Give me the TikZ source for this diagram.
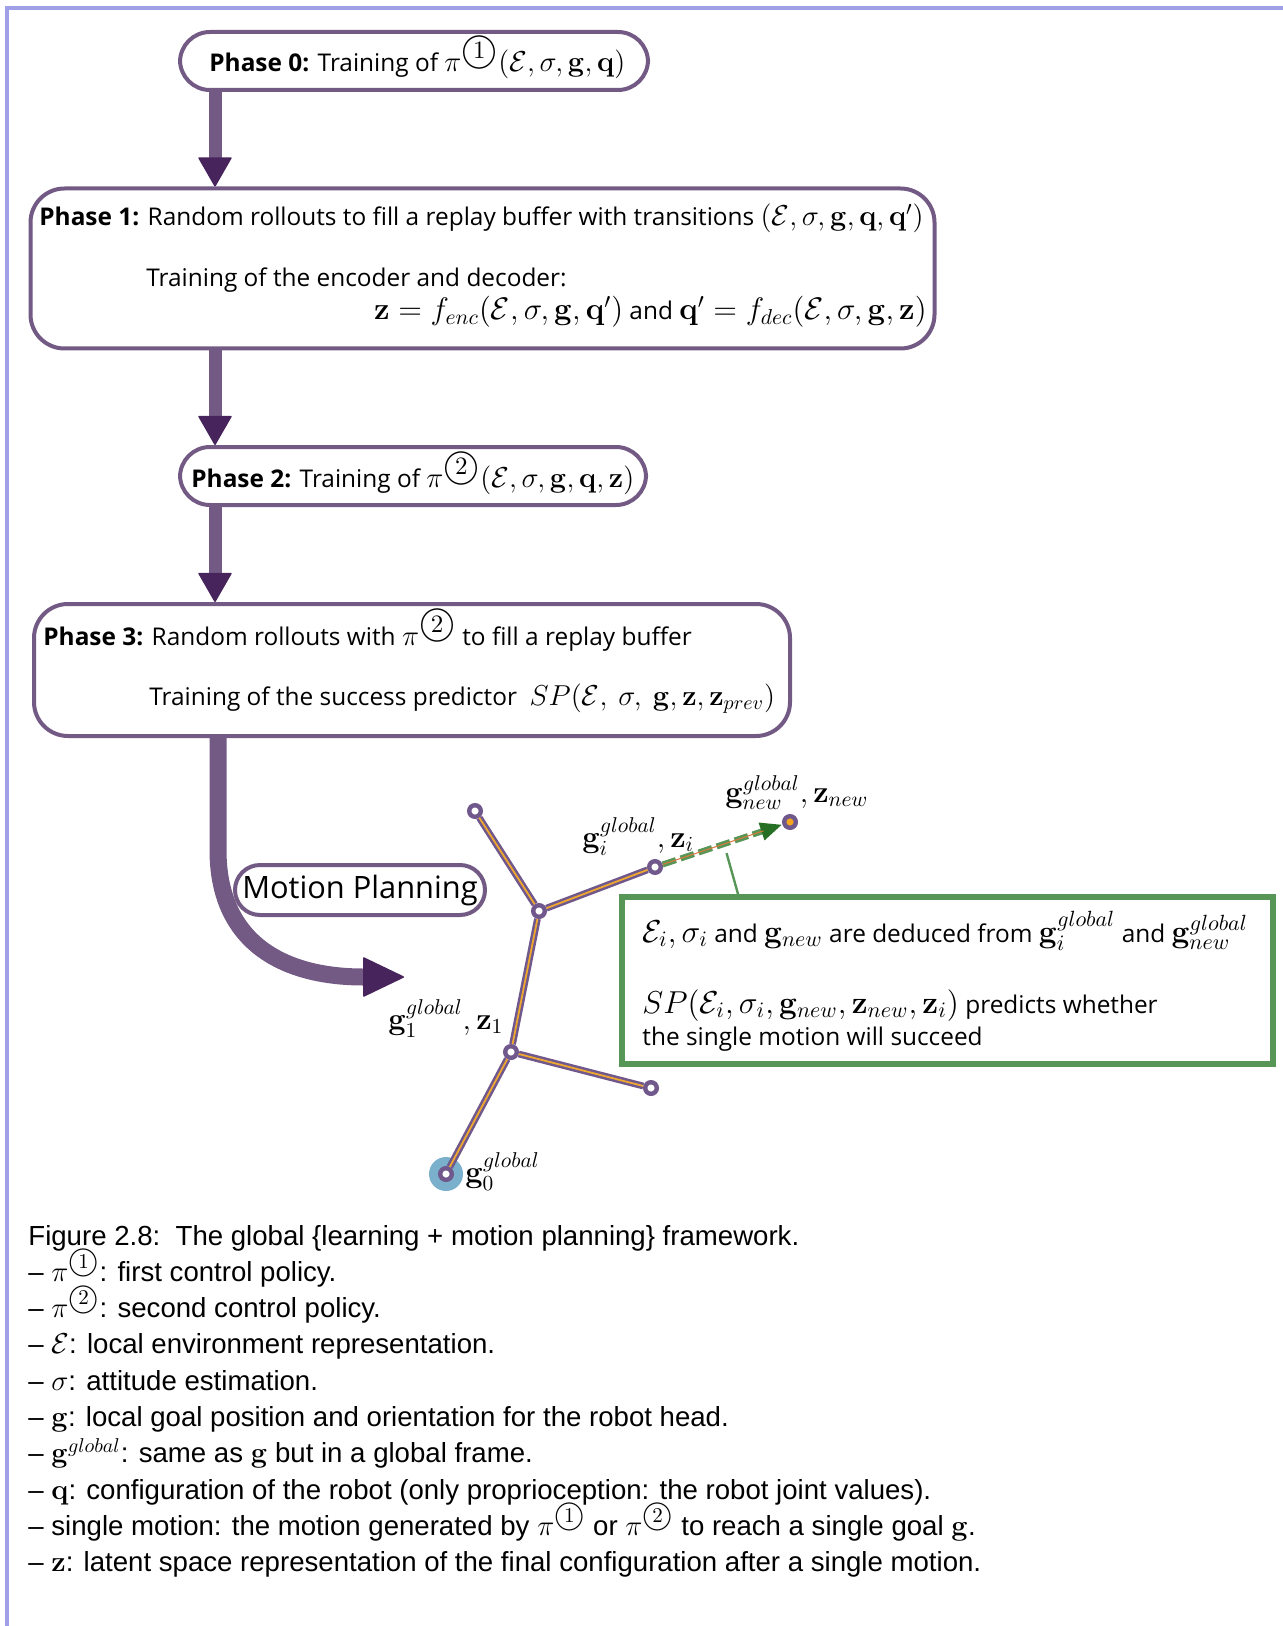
\documentclass[tikz,border=0pt]{standalone}
\usepackage{amsmath}
\usepackage[no-math]{fontspec}
\setmainfont{Open Sans}
\newfontfamily\capfont{Liberation Sans}
\DeclareMathSizes{12.2}{14.4}{10}{7}
\usetikzlibrary{arrows.meta,calc}
\definecolor{boxpur}{RGB}{115,90,133}
\definecolor{headpur}{RGB}{72,36,92}
\definecolor{framecol}{RGB}{160,160,232}
\definecolor{grn}{RGB}{88,150,88}
\definecolor{dgrn}{RGB}{38,112,38}
\definecolor{edgepur}{RGB}{112,88,140}
\definecolor{edgeorg}{RGB}{238,168,48}
\definecolor{halocol}{RGB}{122,176,204}
\definecolor{neworg}{RGB}{245,165,30}
\definecolor{thinorg}{RGB}{220,120,60}
\newcommand{\cnum}[2][1.25]{\scalebox{#1}{\ooalign{$\bigcirc$\cr\hidewidth\raisebox{0.15ex}{$\scriptstyle #2$}\hidewidth\cr}}}
\newcommand{\smath}[2]{\scalebox{#1}{$#2$}}
\begin{document}
\begin{tikzpicture}[x=0.5pt,y=-0.5pt,
  every node/.style={inner sep=0pt},
  bodytxt/.style={font=\fontsize{12.2}{14.6}\selectfont},
  captxt/.style={font=\capfont\fontsize{13.8}{16}\selectfont, anchor=base west},
  phasebox/.style={draw=boxpur,line width=2pt,fill=white,rounded corners=15pt},
  flowarrow/.style={draw=boxpur,line width=6.5pt,-{Triangle[length=15pt,width=17pt,round,line width=0.8pt,color=headpur,fill=headpur]}},
  motionarrow/.style={draw=boxpur,line width=8.5pt,-{Triangle[length=21pt,width=20pt,round,line width=0.8pt,color=headpur,fill=headpur]}},
  treenode/.style={circle,draw=edgepur,line width=2.2pt,fill=white,minimum size=5.8pt},
  treeedge/.style={draw=edgepur,line width=1.25pt,double=edgeorg,double distance=0.9pt},
  lbl/.style={font=\fontsize{12.2}{14.6}\selectfont, anchor=base west},
]
\useasboundingbox (0,0) rectangle (1282,1626);
% frame
\draw[framecol,line width=1.6pt] (7,1630) -- (7,8) -- (1290,8);

% phase boxes
\node[phasebox,minimum width=234pt,minimum height=29pt] (p0) at (414,61) {};
\node[bodytxt,anchor=base west] (p0a) at (209,71.5)
  {\textbf{Phase 0:} Training of $\pi^{\cnum{1}}(\mathcal{E},\sigma,\mathbf{g},\mathbf{q})$};
\node[phasebox,rounded corners=17pt,minimum width=452pt,minimum height=80pt] (p1) at (482.5,268.5) {};
\node[bodytxt,anchor=base west] (p1a) at (39,226)
  {\textbf{Phase 1:} Random rollouts to fill a replay buffer with transitions $(\mathcal{E},\sigma,\mathbf{g},\mathbf{q},\mathbf{q}')$};
\node[bodytxt,anchor=base west] (p1b) at (146,287) {Training of the encoder and decoder:};
\node[bodytxt,anchor=base east] (p1c) at (927,320)
  {\smath{1.08}{\mathbf{z}=f_{enc}(\mathcal{E},\sigma,\mathbf{g},\mathbf{q}')} and \smath{1.08}{\mathbf{q}'=f_{dec}(\mathcal{E},\sigma,\mathbf{g},\mathbf{z})}};
\node[phasebox,minimum width=233pt,minimum height=29pt] (p2) at (413,476) {};
\node[bodytxt,anchor=base west] (p2a) at (191,487.5)
  {\textbf{Phase 2:} Training of $\pi^{\cnum{2}}(\mathcal{E},\sigma,\mathbf{g},\mathbf{q},\mathbf{z})$};
\node[phasebox,rounded corners=17pt,minimum width=378pt,minimum height=66pt] (p3) at (412,670) {};
\node[bodytxt,anchor=base west] (p3a) at (43,645)
  {\textbf{Phase 3:} Random rollouts with $\pi^{\cnum{2}}$ to fill a replay buffer};
\node[bodytxt,anchor=base west] (p3b) at (149,705)
  {Training of the success predictor \ $SP(\mathcal{E},\ \sigma,\ \mathbf{g},\mathbf{z},\mathbf{z}_{prev})$};

% flow arrows
\coordinate (ax) at (215,0);
\coordinate (mx) at (218,0);
\draw[flowarrow] (p0.south -| ax) -- (p1.north -| ax);
\draw[flowarrow] (p1.south -| ax) -- (p2.north -| ax);
\draw[flowarrow] (p2.south -| ax) -- (p3.north -| ax);
\coordinate (mend) at (404,977);
\draw[motionarrow] (p3.south -| mx) -- (218,850) .. controls (218,940) and (280,977) .. (mend);
\node[draw=boxpur,line width=2pt,fill=white,rounded corners=12.5pt,minimum width=125pt,minimum height=25pt,font=\fontsize{15.4}{18}\selectfont] (mp) at (360,890) {Motion Planning};

% tree
\node[circle,fill=halocol,minimum size=17pt] (halo) at (446,1174) {};
\node[treenode] (n0) at (446,1174) {};
\node[treenode] (n1) at (511,1052) {};
\node[treenode] (n2) at (651,1088) {};
\node[treenode] (n3) at (539,911) {};
\node[treenode] (n4) at (475,811) {};
\node[treenode] (n5) at (655,867) {};
\node[treenode,fill=neworg] (n6) at (790,822) {};
\draw[treeedge] (n0) -- (n1);
\draw[treeedge] (n1) -- (n2);
\draw[treeedge] (n1) -- (n3);
\draw[treeedge] (n3) -- (n4);
\draw[treeedge] (n3) -- (n5);
\draw[grn,line width=3pt,dash pattern=on 7pt off 2.5pt,-{Triangle[length=11pt,width=8.5pt,color=dgrn,fill=dgrn]}] (n5) -- (n6);
\draw[thinorg,line width=0.5pt,shorten >=10pt] (n5) -- (n6);

% labels
\node[lbl] (lgi) at (582,847) {\smath{1.07}{\mathbf{g}_i^{global}, \mathbf{z}_i}};
\node[lbl] (lgn) at (725,802) {\smath{1.07}{\mathbf{g}_{new}^{global}, \mathbf{z}_{new}}};
\node[lbl] (lg1) at (388,1029) {\smath{1.07}{\mathbf{g}_1^{global}, \mathbf{z}_1}};
\node[lbl] (lg0) at (465,1182) {\smath{1.07}{\mathbf{g}_0^{global}}};

% green box
\node[draw=grn,line width=3pt,fill=white,minimum width=325.5pt,minimum height=83.5pt] (gbox) at (947.5,980.5) {};
\coordinate (cs) at ($(n5)!0.53!(n6)+(0,10)$);
\coordinate (cx) at (738,0);
\draw[grn,line width=1.2pt] (cs) -- (gbox.north -| cx);
\node[bodytxt,anchor=base west] (g1) at (642,942)
  {\smath{1.1}{\mathcal{E}_i,\sigma_i} and \smath{1.1}{\mathbf{g}_{new}} are deduced from \smath{1.1}{\mathbf{g}_i^{global}} and \smath{1.1}{\mathbf{g}_{new}^{global}}};
\node[bodytxt,anchor=base west] (g2) at (642,1013)
  {\smath{1.1}{SP(\mathcal{E}_i,\sigma_i,\mathbf{g}_{new},\mathbf{z}_{new},\mathbf{z}_i)} predicts whether};
\node[bodytxt,anchor=base west] (g3) at (642,1045) {the single motion will succeed};

% caption
\node[captxt] (c1) at (28,1245) {Figure 2.8:\ \ The global \{learning + motion planning\} framework.};
\node[captxt] (c2) at (28,1281.3) {– $\pi^{\cnum[1.05]{1}}$: first control policy.};
\node[captxt] (c3) at (28,1317.6) {– $\pi^{\cnum[1.05]{2}}$: second control policy.};
\node[captxt] (c4) at (28,1353.9) {– $\mathcal{E}$: local environment representation.};
\node[captxt] (c5) at (28,1390.2) {– $\sigma$: attitude estimation.};
\node[captxt] (c6) at (28,1426.5) {– $\mathbf{g}$: local goal position and orientation for the robot head.};
\node[captxt] (c7) at (28,1462.8) {– $\mathbf{g}^{global}$: same as $\mathbf{g}$ but in a global frame.};
\node[captxt] (c8) at (28,1499.1) {– $\mathbf{q}$: configuration of the robot (only proprioception: the robot joint values).};
\node[captxt] (c9) at (28,1535.4) {– single motion: the motion generated by $\pi^{\cnum[1.05]{1}}$ or $\pi^{\cnum[1.05]{2}}$ to reach a single goal $\mathbf{g}$.};
\node[captxt] (c10) at (28,1571.7) {– $\mathbf{z}$: latent space representation of the final configuration after a single motion.};
\end{tikzpicture}
\end{document}
